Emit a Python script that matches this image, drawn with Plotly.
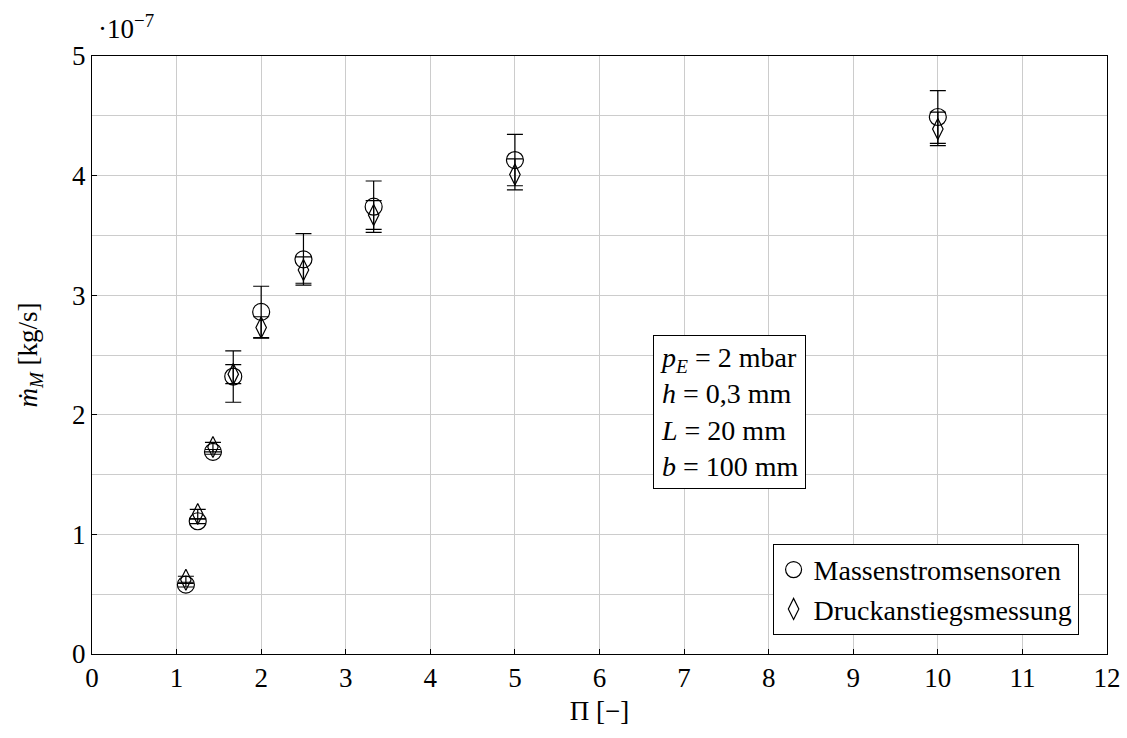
import plotly.graph_objects as go

# Pressure ratio Pi [-]
pi_vals = [1.11, 1.25, 1.43, 1.67, 2.0, 2.5, 3.33, 5.0, 10.0]

# Mass flow in units of 1e-7 kg/s
mass_sensor = [0.58, 1.11, 1.69, 2.32, 2.86, 3.30, 3.74, 4.13, 4.49]
mass_sensor_err = [0.02, 0.02, 0.02, 0.215, 0.215, 0.215, 0.215, 0.215, 0.22]

pressure_rise = [0.62, 1.17, 1.73, 2.34, 2.73, 3.21, 3.67, 4.01, 4.39]
pressure_rise_err = [0.03, 0.04, 0.04, 0.08, 0.09, 0.11, 0.12, 0.13, 0.14]

x_ticks = list(range(0, 13))
y_ticks = [0, 1, 2, 3, 4, 5]

FONT = "Liberation Serif"
FS = 27

fig = go.Figure()

fig.add_trace(go.Scatter(
    x=pi_vals, y=mass_sensor, mode="markers", name="Massenstromsensoren",
    marker=dict(symbol="circle-open", size=17, color="black", line=dict(width=1.2, color="black")),
    error_y=dict(type="data", array=mass_sensor_err, color="black", thickness=1.2, width=8),
))
fig.add_trace(go.Scatter(
    x=pi_vals, y=pressure_rise, mode="markers", name="Druckanstiegsmessung",
    marker=dict(symbol="diamond-tall-open", size=15, color="black", line=dict(width=1.2, color="black")),
    error_y=dict(type="data", array=pressure_rise_err, color="black", thickness=1.2, width=8),
))

fig.update_layout(
    width=1127, height=738,
    margin=dict(l=92, r=20, t=56, b=84),
    paper_bgcolor="white", plot_bgcolor="white",
    font=dict(family=FONT, size=FS, color="black"),
    showlegend=True,
    legend=dict(
        x=0.972, y=0.032, xanchor="right", yanchor="bottom",
        bordercolor="black", borderwidth=1, bgcolor="white",
        font=dict(family=FONT, size=FS + 1), itemsizing="trace",
        tracegroupgap=0, itemwidth=30,
    ),
    xaxis=dict(
        range=[0, 12], tickvals=x_ticks, ticktext=[str(v) for v in x_ticks],
        showgrid=True, gridcolor="#cccccc", gridwidth=1,
        showline=True, linecolor="black", linewidth=1, mirror=True,
        ticks="inside", ticklen=5, tickcolor="black",
        zeroline=False, automargin=False,
        title=dict(text="Π [−]", font=dict(family=FONT, size=FS), standoff=8),
    ),
    yaxis=dict(
        range=[0, 5], tickvals=y_ticks, ticktext=[str(v) for v in y_ticks],
        showgrid=True, gridcolor="#cccccc", gridwidth=1,
        minor=dict(dtick=0.5, showgrid=True, gridcolor="#cccccc", gridwidth=1),
        showline=True, linecolor="black", linewidth=1, mirror=True,
        ticks="inside", ticklen=5, tickcolor="black",
        zeroline=False, automargin=False,
        title=dict(text="<i>ṁ</i><sub><i>M</i></sub> [kg/s]", font=dict(family=FONT, size=FS), standoff=26),
    ),
)

fig.add_annotation(
    xref="paper", yref="paper", x=0.004, y=1.0, xanchor="left", yanchor="bottom",
    yshift=10, text="·10<sup>−7</sup>", showarrow=False,
    font=dict(family=FONT, size=FS),
)

fig.add_annotation(
    xref="paper", yref="paper", x=0.553, y=0.533, xanchor="left", yanchor="top",
    text="<i>p</i><sub><i>E</i></sub> = 2 mbar<br><i>h</i> = 0,3 mm<br><i>L</i> = 20 mm<br><i>b</i> = 100 mm",
    align="left", showarrow=False, bordercolor="black", borderwidth=1, borderpad=6,
    bgcolor="white", font=dict(family=FONT, size=FS + 1),
)

fig.write_html("out.html", config={"displayModeBar": False},
               post_script="document.body.style.margin='0';")
